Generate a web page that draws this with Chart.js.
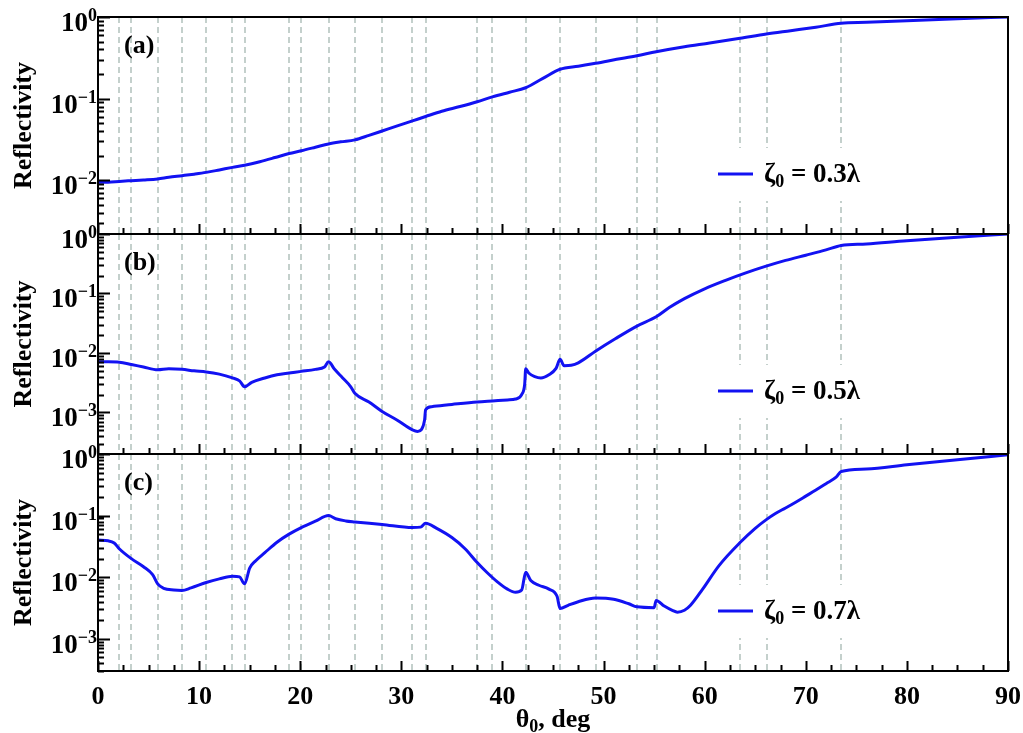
<!DOCTYPE html>
<html>
<head>
<meta charset="utf-8">
<script src="https://cdn.jsdelivr.net/npm/chart.js@4.4.1/dist/chart.umd.min.js"></script>
<style>
  body { margin: 0; background: #fff; }
  #wrap { position: relative; width: 1023px; height: 733px; }
  #wrap canvas { position: absolute; left: 0; top: 0; }
</style>
</head>
<body>
<div id="wrap">
  <canvas id="panel-a" width="1023" height="733"></canvas>
  <canvas id="panel-b" width="1023" height="733"></canvas>
  <canvas id="panel-c" width="1023" height="733"></canvas>
</div>
<script>
// incidence angle (deg) and reflectivity
const angleA = [0, 1, 2.1, 3.3, 4.5, 5.9, 7, 8.3, 9.5, 10.7, 12, 13.3, 14.5, 16, 17.5, 18.9, 20.1, 21.5, 22.8, 24, 25.4,
  26.8, 28.1, 29.6, 31.1, 32.4, 34, 35.8, 37.5, 39, 40.7, 42.3, 44, 45.7, 47.5, 49.2, 51.3, 53.3, 55.2, 58, 60.5, 63.5,
  66.1, 68.5, 71, 73.5, 76, 80, 85, 90];
const reflA = [0.0095, 0.0095, 0.0097, 0.0099, 0.0101, 0.0104, 0.0109, 0.0114, 0.0119, 0.0125, 0.0134, 0.0144, 0.0153,
  0.0169, 0.019, 0.0213, 0.023, 0.0254, 0.0279, 0.0296, 0.0313, 0.0355, 0.0402, 0.0465, 0.0534, 0.0604, 0.07, 0.08,
  0.0917, 0.105, 0.12, 0.136, 0.177, 0.229, 0.25, 0.271, 0.303, 0.336, 0.376, 0.433, 0.48, 0.548, 0.619, 0.68, 0.75,
  0.837, 0.86, 0.9, 0.95, 1.0];

const angleB = [0, 1, 2.1, 3.3, 4.5, 5.9, 7, 8.3, 9.5, 10.7, 12, 13.3, 14, 14.5, 15.2, 16.5, 17.7, 18.9, 20.1, 21.5,
  22.4, 22.8, 23.4, 24.2, 25, 25.4, 26.8, 28.1, 29.6, 31.1, 31.6, 32, 32.3, 32.4, 33, 35, 37.5, 39, 40.5, 41.3, 41.9,
  42.2, 42.3, 42.6, 43.2, 43.8, 44.6, 45.3, 45.7, 46.1, 46.8, 47.5, 49.2, 51.2, 53.3, 55.2, 56.5, 58, 60, 62, 64, 66,
  68, 70, 72, 73.5, 76, 80, 85, 90];
const reflB = [0.0071, 0.0071, 0.007, 0.0064, 0.0058, 0.0052, 0.0054, 0.0053, 0.005, 0.0048, 0.0044, 0.0038, 0.0034,
  0.0027, 0.0032, 0.0038, 0.0043, 0.0046, 0.0049, 0.0053, 0.0058, 0.0071, 0.0053, 0.0038, 0.0027, 0.0021, 0.0015,
  0.00104, 0.00074, 0.00051, 0.00048, 0.00052, 0.00075, 0.00111, 0.00125, 0.00136, 0.0015, 0.00156, 0.00162, 0.00168,
  0.002, 0.003, 0.0054, 0.0046, 0.004, 0.0038, 0.0043, 0.0055, 0.0078, 0.0061, 0.0062, 0.0068, 0.0107, 0.0175, 0.0283,
  0.0405, 0.058, 0.082, 0.12, 0.165, 0.22, 0.285, 0.36, 0.44, 0.54, 0.64, 0.68, 0.77, 0.88, 1.0];

const angleC = [0, 1, 1.6, 2.1, 3.3, 4.5, 5.4, 5.9, 6.5, 7.5, 8.3, 9.2, 10.7, 12, 13.3, 14, 14.5, 15, 15.6, 16.5, 17.7,
  18.9, 20.1, 21.5, 22.8, 23.5, 24.5, 25.4, 28.1, 31.1, 31.9, 32.4, 33.5, 35, 36.3, 37.5, 38.5, 39.5, 40.5, 41.3, 41.9,
  42.3, 42.8, 43.6, 44.6, 45.4, 45.7, 46.5, 47.5, 49.2, 51, 52.5, 53.3, 55, 55.2, 56, 56.8, 57.3, 58, 58.6, 59.8, 61.4,
  63.5, 65, 66.1, 67, 68, 69, 70, 71, 72, 73, 73.5, 76, 80, 85, 90];
const reflC = [0.04, 0.039, 0.036, 0.029, 0.02, 0.0148, 0.011, 0.0078, 0.0066, 0.0062, 0.0061, 0.0067, 0.0082, 0.0094,
  0.0104, 0.0101, 0.0078, 0.014, 0.0185, 0.025, 0.037, 0.05, 0.064, 0.081, 0.1, 0.089, 0.082, 0.079, 0.072, 0.064,
  0.065, 0.075, 0.062, 0.044, 0.029, 0.0173, 0.0118, 0.0084, 0.0064, 0.0057, 0.0062, 0.012, 0.0088, 0.0074, 0.0064,
  0.0049, 0.0031, 0.0035, 0.004, 0.0046, 0.0044, 0.0037, 0.0033, 0.0032, 0.0042, 0.0034, 0.0029, 0.0027, 0.0029,
  0.0035, 0.0064, 0.0153, 0.0365, 0.062, 0.086, 0.108, 0.133, 0.165, 0.207, 0.26, 0.33, 0.42, 0.52, 0.57, 0.67, 0.81,
  0.97];

// dashed vertical markers (deg)
const resonanceAngles = [2.1, 3.3, 5.9, 8.3, 10.7, 13.3, 14.5, 18.9, 20.1, 22.8, 25.45, 28.1, 31.05, 32.45, 37.5, 39,
  42.35, 45.7, 49.25, 53.35, 55.25, 63.5, 66.15, 73.5];

const xTickValues = [0, 10, 20, 30, 40, 50, 60, 70, 80, 90];
const decadeValues = [1, 0.1, 0.01, 0.001];
const decadeExponents = ['0', '−1', '−2', '−3'];
const panelLetters = ['(a)', '(b)', '(c)'];
const zetaValues = ['0.3λ', '0.5λ', '0.7λ'];
const seriesLabels = ['ζ₀ = 0.3λ', 'ζ₀ = 0.5λ', 'ζ₀ = 0.7λ'];

const SERIF = '"Liberation Serif", "Times New Roman", serif';
const BLUE = '#1212f2';
Chart.defaults.font.family = SERIF;
Chart.defaults.color = '#000';

// text with a lowered/raised small part, e.g. ζ0 or θ0
function drawSubText(ctx, x, y, parts) {
  parts.forEach(p => {
    ctx.font = 'bold ' + p.size + 'px ' + SERIF;
    ctx.fillText(p.text, x, y + (p.dy || 0));
    x += ctx.measureText(p.text).width;
  });
  return x;
}
function subTextWidth(ctx, parts) {
  let w = 0;
  parts.forEach(p => {
    ctx.font = 'bold ' + p.size + 'px ' + SERIF;
    w += ctx.measureText(p.text).width;
  });
  return w;
}

const panelDecor = {
  id: 'panelDecor',
  beforeDatasetsDraw(chart, args, opts) {
    const { ctx, chartArea: a, scales: { x } } = chart;
    ctx.save();
    ctx.strokeStyle = '#c4d0cc';
    ctx.lineWidth = 2;
    ctx.setLineDash([6, 4]);
    resonanceAngles.forEach(t => {
      const px = Math.round(x.getPixelForValue(t));
      ctx.beginPath();
      ctx.moveTo(px, a.top);
      ctx.lineTo(px, a.bottom);
      ctx.stroke();
    });
    ctx.setLineDash([]);
    // legend background hides the markers
    const ly = a.bottom - opts.legendDrop;
    ctx.fillStyle = '#fff';
    ctx.fillRect(705, ly - 26, 178, 53);
    ctx.restore();
  },
  afterDatasetsDraw(chart, args, opts) {
    const { ctx, chartArea: a } = chart;
    const i = opts.index;
    ctx.save();
    // legend
    const ly = a.bottom - opts.legendDrop;
    ctx.strokeStyle = BLUE;
    ctx.lineWidth = 3;
    ctx.beginPath();
    ctx.moveTo(718, ly);
    ctx.lineTo(753, ly);
    ctx.stroke();
    ctx.fillStyle = '#000';
    ctx.textBaseline = 'alphabetic';
    drawSubText(ctx, 764, ly + 8, [
      { text: 'ζ', size: 27 },
      { text: '0', size: 18, dy: 5 },
      { text: ' = ' + zetaValues[i], size: 27 },
    ]);
    // panel letter
    ctx.font = 'bold 26px ' + SERIF;
    ctx.textBaseline = 'middle';
    ctx.fillText(panelLetters[i], a.left + 26, a.top + 29);
    ctx.restore();
  },
  afterDraw(chart, args, opts) {
    const { ctx, chartArea: a, scales: { x, y } } = chart;
    ctx.save();
    ctx.strokeStyle = '#000';
    ctx.lineWidth = 2;
    ctx.strokeRect(a.left, a.top, a.right - a.left, a.bottom - a.top);
    ctx.beginPath();
    // bottom ticks, inward
    for (let t = 0; t <= 90; t += 2.5) {
      const px = Math.round(x.getPixelForValue(t)) + 0.5;
      const len = t % 10 === 0 ? 10 : 6;
      ctx.moveTo(px, a.bottom);
      ctx.lineTo(px, a.bottom - len);
    }
    // left ticks, inward
    const lo = Math.floor(Math.log10(y.min));
    for (let e = lo; e <= 0; e++) {
      for (let k = 1; k <= 9; k++) {
        const v = k * Math.pow(10, e);
        if (v < y.min || v > y.max * 1.0001) continue;
        const py = Math.round(y.getPixelForValue(v)) + 0.5;
        ctx.moveTo(a.left, py);
        ctx.lineTo(a.left + (k === 1 ? 12 : 6), py);
      }
    }
    ctx.stroke();

    // y tick labels 10^n
    ctx.fillStyle = '#000';
    ctx.textBaseline = 'alphabetic';
    ctx.textAlign = 'left';
    decadeValues.forEach((v, k) => {
      if (v < y.min) return;
      const py = y.getPixelForValue(v);
      const parts = [
        { text: '10', size: 27, dy: 14 },
        { text: decadeExponents[k], size: 18, dy: 4 },
      ];
      drawSubText(ctx, a.left - 1 - subTextWidth(ctx, parts), py, parts);
    });

    // x axis title
    if (opts.isBottom) {
      const parts = [
        { text: 'θ', size: 26 },
        { text: '0', size: 18, dy: 5 },
        { text: ', deg', size: 26 },
      ];
      const cx = (a.left + a.right) / 2;
      drawSubText(ctx, cx - subTextWidth(ctx, parts) / 2, 727, parts);
    }
    ctx.restore();
  }
};

function panelConfig(i, angles, refl, yMin, padding, legendDrop, isBottom) {
  return {
    type: 'line',
    data: {
      datasets: [{
        label: seriesLabels[i],
        data: angles.map((a, k) => ({ x: a, y: refl[k] })),
        borderColor: BLUE,
        borderWidth: 3,
        pointRadius: 0,
        cubicInterpolationMode: 'monotone',
        fill: false,
      }],
    },
    options: {
      responsive: false,
      animation: false,
      devicePixelRatio: 1,
      layout: { padding: padding },
      plugins: {
        legend: { display: false },
        tooltip: { enabled: false },
        panelDecor: { index: i, legendDrop: legendDrop, isBottom: isBottom },
      },
      scales: {
        x: {
          type: 'linear',
          min: 0,
          max: 90,
          grid: { display: false, drawTicks: false },
          border: { display: false },
          afterBuildTicks: s => { s.ticks = xTickValues.map(v => ({ value: v })); },
          afterFit: s => {
            s.height = isBottom ? 62 : 0;
            s.paddingLeft = 0;
            s.paddingRight = 0;
          },
          ticks: {
            display: isBottom,
            padding: 11,
            font: { size: 26, weight: 'bold' },
            maxRotation: 0,
          },
        },
        y: {
          type: 'logarithmic',
          min: yMin,
          max: 1,
          grid: { display: false, drawTicks: false },
          border: { display: false },
          afterBuildTicks: s => {
            s.ticks = decadeValues.filter(v => v >= yMin).map(v => ({ value: v }));
          },
          afterFit: s => { s.width = 98; },
          ticks: { display: false },
          title: {
            display: true,
            text: 'Reflectivity',
            padding: { top: 9, bottom: 0 },
            font: { size: 26, weight: 'bold' },
          },
        },
      },
    },
    plugins: [panelDecor],
  };
}

new Chart(document.getElementById('panel-a'),
  panelConfig(0, angleA, reflA, 0.0022, { top: 17, bottom: 499, left: 0, right: 15 }, 60, false));
new Chart(document.getElementById('panel-b'),
  panelConfig(1, angleB, reflB, 0.0002, { top: 234, bottom: 279, left: 0, right: 15 }, 63, false));
new Chart(document.getElementById('panel-c'),
  panelConfig(2, angleC, reflC, 0.00032, { top: 454, bottom: 0, left: 0, right: 15 }, 60, true));
</script>
</body>
</html>
